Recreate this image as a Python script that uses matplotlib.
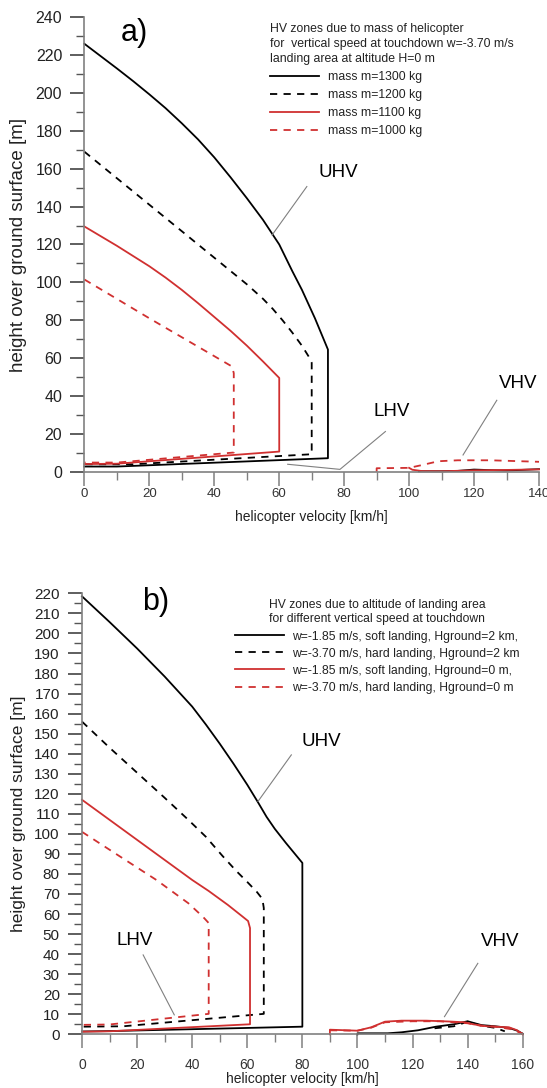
import matplotlib
matplotlib.use("Agg")
import matplotlib.pyplot as plt
from matplotlib.lines import Line2D
from matplotlib.ticker import MultipleLocator

plt.rcParams['font.family'] = ['Liberation Sans', 'DejaVu Sans']

RED = '#d03030'
GRAY = '#808080'

# ---------------- panel a data ----------------
a_x_1300 = [0, 5, 10, 15, 20, 25, 30, 35, 40, 45, 50, 55, 60, 64, 67, 71, 75, 75, 10, 0]
a_y_1300 = [226, 219.5, 213, 206.3, 199.3, 192, 184, 175.5, 166, 155.5, 144.5, 133, 120,
            106, 96, 81, 64.5, 7.1, 2.7, 2.7]
a_x_1200 = [0, 10, 20, 30, 40, 45, 50, 55, 58, 61, 64, 67, 69, 70, 70, 15, 0]
a_y_1200 = [169, 155, 141, 127, 113, 106, 99, 91.3, 86, 80, 73.5, 66.5, 61, 57.5, 9.2, 3.9, 3.9]
a_x_1100 = [0, 10, 20, 25, 30, 35, 40, 45, 50, 55, 60, 60, 10, 0]
a_y_1100 = [129.5, 119.3, 108.5, 102.5, 96, 89, 81.7, 74.4, 66.6, 58.2, 49.5, 10.6, 4.2, 4.0]
a_x_1000 = [0, 20, 35, 43.5, 45.5, 46, 46, 10, 0]
a_y_1000 = [101.5, 81, 66, 57.5, 55.5, 52, 10.1, 4.8, 4.8]

a_vhv_x_1000 = [90, 90, 100, 104, 109, 115, 125, 140]
a_vhv_y_1000 = [0, 1.8, 2, 3.5, 5.5, 6, 6, 5.2]
a_vhv_x_1100 = [100, 101, 104, 110, 120, 130, 140]
a_vhv_y_1100 = [2, 1, 0.3, 0.2, 0.7, 0.9, 1.2]
a_vhv_x_1300 = [103, 110, 115, 120, 125, 130, 140]
a_vhv_y_1300 = [0.2, 0.2, 0.4, 1.1, 0.8, 0.6, 1.3]

a_labels = ['mass m=1300 kg', 'mass m=1200 kg', 'mass m=1100 kg', 'mass m=1000 kg']
a_title = ('HV zones due to mass of helicopter\n'
           'for  vertical speed at touchdown w=-3.70 m/s\n'
           'landing area at altitude H=0 m')

# ---------------- panel b data ----------------
b_x_soft2 = [0, 10, 20, 25, 30, 35, 40, 45, 50, 55, 60, 64, 67, 70, 74, 77, 80, 80, 10, 0]
b_y_soft2 = [218.5, 205.7, 192.5, 185.5, 178.5, 171, 163.5, 154.5, 145, 135, 124.5, 115.5,
             108.5, 102.5, 95.5, 90.5, 85.5, 3.8, 1.6, 1.4]
b_x_hard2 = [0, 10, 20, 30, 38.6, 45, 51, 56, 60, 63.5, 65.5, 66, 66, 15, 0]
b_y_hard2 = [156, 143, 130.5, 118, 107, 98.5, 89, 81.5, 76, 71, 67.5, 63, 10.2, 4.0, 3.8]
b_x_soft0 = [0, 20, 40, 46, 53, 58.5, 60.3, 61, 61, 10, 0]
b_y_soft0 = [117, 97, 77, 71.5, 64.5, 58.5, 56.5, 53, 5.0, 1.5, 1.3]
b_x_hard0 = [0, 12, 27, 38.6, 44, 46, 46, 10, 0]
b_y_hard0 = [101, 90.3, 77, 65.4, 58.5, 55.5, 10.2, 4.9, 4.7]

b_vhv_x_soft0 = [90, 90, 100, 105, 110, 116, 125, 133, 139, 142, 147, 155, 158, 160]
b_vhv_y_soft0 = [0, 2.3, 1.8, 3.5, 6.3, 6.8, 6.8, 6.4, 6, 5, 4, 3.5, 2, 0]
b_vhv_x_hard0 = [90, 100, 105, 110, 120, 130, 140, 145, 150, 156, 160]
b_vhv_y_hard0 = [2, 1.8, 3.3, 6, 6.5, 6.5, 5.5, 4.2, 3.8, 2.5, 0.3]
b_vhv_x_soft2 = [100, 100, 111, 116, 122, 128.5, 135, 140, 145, 150, 155, 158, 160]
b_vhv_y_soft2 = [0, 0.5, 0.5, 1, 2, 3.8, 5, 6.5, 4.6, 4, 3.2, 1.8, 0.3]
b_vhv_x_hard2 = [128, 135, 140, 145, 150, 153.5]
b_vhv_y_hard2 = [3, 4, 6.3, 4.3, 3.2, 1.5]

b_labels = ['w=-1.85 m/s, soft landing, Hground=2 km,',
            'w=-3.70 m/s, hard landing, Hground=2 km',
            'w=-1.85 m/s, soft landing, Hground=0 m,',
            'w=-3.70 m/s, hard landing, Hground=0 m']
b_title = ('HV zones due to altitude of landing area\n'
           'for different vertical speed at touchdown')

LW = 1.3
DASH = (4, 3.5)

fig = plt.figure(figsize=(5.47, 10.88), dpi=100)
axa = fig.add_axes([0.1543, 0.5665, 0.8311, 0.4176])
axb = fig.add_axes([0.1499, 0.04936, 0.8057, 0.4053])


def style_axis(ax, xmax, ymax, ymaj, ymin, ylab_size, xlab_size, xpad):
    ax.set_xlim(0, xmax)
    ax.set_ylim(0, ymax)
    for s in ['top', 'right']:
        ax.spines[s].set_visible(False)
    for s in ['left', 'bottom']:
        ax.spines[s].set_color(GRAY)
        ax.spines[s].set_linewidth(1.2)
    ax.xaxis.set_major_locator(MultipleLocator(20))
    ax.xaxis.set_minor_locator(MultipleLocator(10))
    ax.yaxis.set_major_locator(MultipleLocator(ymaj))
    ax.yaxis.set_minor_locator(MultipleLocator(ymin))
    ax.tick_params(axis='y', which='major', direction='out', length=10, width=1.1,
                   color='#333333', labelsize=ylab_size, pad=6, labelcolor='#222222')
    ax.tick_params(axis='y', which='minor', direction='out', length=5.5, width=1.0,
                   color='#555555')
    ax.tick_params(axis='x', which='major', direction='out', length=10, width=1.1,
                   color=GRAY, labelsize=xlab_size, pad=xpad, labelcolor='#333333')
    ax.tick_params(axis='x', which='minor', direction='out', length=5.5, width=1.0,
                   color=GRAY)
    ax.set_facecolor('none')


# ---------------- panel a ----------------
axa.plot(a_x_1300, a_y_1300, color='black', lw=LW, clip_on=False)
axa.plot(a_x_1200, a_y_1200, color='black', lw=LW, dashes=DASH, clip_on=False)
axa.plot(a_x_1100, a_y_1100, color=RED, lw=LW, clip_on=False)
axa.plot(a_x_1000, a_y_1000, color=RED, lw=LW, dashes=DASH, clip_on=False)
axa.plot(a_vhv_x_1300, a_vhv_y_1300, color='black', lw=LW, clip_on=False)
axa.plot(a_vhv_x_1100, a_vhv_y_1100, color=RED, lw=LW, clip_on=False)
axa.plot(a_vhv_x_1000, a_vhv_y_1000, color=RED, lw=LW, dashes=DASH, clip_on=False)

style_axis(axa, 140, 240, 20, 10, 11.5, 9.5, 2)
axa.set_xlabel('helicopter velocity [km/h]', fontsize=10, color='#222222')
axa.xaxis.set_label_coords(0.5, -0.100)
axa.xaxis.label.set_va('center')
axa.set_ylabel('height over ground surface [m]', fontsize=13.5, color='#222222')
axa.yaxis.set_label_coords(-0.144, 0.5)
axa.yaxis.label.set_va('center')

axa.text(15.4, 231.5, 'a)', fontsize=22, ha='center', va='center')
axa.text(78.2, 158, 'UHV', fontsize=13.5, ha='center', va='center')
axa.plot([68.5, 57.8], [150.6, 125], color=GRAY, lw=0.8)
axa.text(94.5, 31.9, 'LHV', fontsize=13.5, ha='center', va='center')
axa.plot([92.7, 78.7, 62.6], [21.2, 1.2, 3.9], color=GRAY, lw=0.8)
axa.text(133.7, 46.5, 'VHV', fontsize=13.5, ha='center', va='center')
axa.plot([127, 116.6], [37.7, 8.8], color=GRAY, lw=0.8)

ha = [Line2D([], [], color='black', lw=LW),
      Line2D([], [], color='black', lw=LW, dashes=DASH),
      Line2D([], [], color=RED, lw=LW),
      Line2D([], [], color=RED, lw=LW, dashes=DASH)]
lga = axa.legend(ha, a_labels, title=a_title, loc='upper left',
                 bbox_to_anchor=(57.3, 236.8), bbox_transform=axa.transData,
                 frameon=False, fontsize=8.8, title_fontsize=8.8, borderpad=0,
                 handlelength=4.0, handletextpad=0.7, labelspacing=0.5,
                 borderaxespad=0)
lga._legend_box.align = 'left'
lga.get_title().set_linespacing(1.3)
for t in lga.get_texts():
    t.set_color('#222222')
lga.get_title().set_color('#222222')

# ---------------- panel b ----------------
axb.plot(b_x_soft2, b_y_soft2, color='black', lw=LW, clip_on=False)
axb.plot(b_x_hard2, b_y_hard2, color='black', lw=LW, dashes=DASH, clip_on=False)
axb.plot(b_x_soft0, b_y_soft0, color=RED, lw=LW, clip_on=False)
axb.plot(b_x_hard0, b_y_hard0, color=RED, lw=LW, dashes=DASH, clip_on=False)
axb.plot(b_vhv_x_soft2, b_vhv_y_soft2, color='black', lw=LW, clip_on=False)
axb.plot(b_vhv_x_hard2, b_vhv_y_hard2, color='black', lw=LW, dashes=DASH, clip_on=False)
axb.plot(b_vhv_x_soft0, b_vhv_y_soft0, color=RED, lw=LW, clip_on=False)
axb.plot(b_vhv_x_hard0, b_vhv_y_hard0, color=RED, lw=LW, dashes=DASH, clip_on=False)

style_axis(axb, 160, 220, 10, 5, 11, 10, 7)
axb.set_xlabel('helicopter velocity [km/h]', fontsize=10, color='#222222')
axb.xaxis.set_label_coords(0.5, -0.101)
axb.xaxis.label.set_va('center')
axb.set_ylabel('height over ground surface [m]', fontsize=12.5, color='#222222')
axb.yaxis.set_label_coords(-0.143, 0.5)
axb.yaxis.label.set_va('center')

axb.text(26.8, 215.5, 'b)', fontsize=22, ha='center', va='center')
axb.text(87, 146, 'UHV', fontsize=13.5, ha='center', va='center')
axb.plot([76, 63.9], [139.4, 116.2], color=GRAY, lw=0.8)
axb.text(19, 46.8, 'LHV', fontsize=13.5, ha='center', va='center')
axb.plot([22.2, 33.5], [39.6, 9.7], color=GRAY, lw=0.8)
axb.text(151.9, 46.3, 'VHV', fontsize=13.5, ha='center', va='center')
axb.plot([143.7, 131.6], [35.4, 8.8], color=GRAY, lw=0.8)

hb = [Line2D([], [], color='black', lw=LW),
      Line2D([], [], color='black', lw=LW, dashes=DASH),
      Line2D([], [], color=RED, lw=LW),
      Line2D([], [], color=RED, lw=LW, dashes=DASH)]
lgb = axb.legend(hb, b_labels, title=b_title, loc='upper left',
                 bbox_to_anchor=(55.7, 217.3), bbox_transform=axb.transData,
                 frameon=False, fontsize=8.7, title_fontsize=8.7, borderpad=0,
                 handlelength=4.0, handletextpad=0.65, labelspacing=0.42,
                 borderaxespad=0)
lgb.get_title().set_linespacing(1.3)
for t in lgb.get_texts():
    t.set_color('#222222')
lgb.get_title().set_color('#222222')

fig.savefig('out.png', dpi=100)
